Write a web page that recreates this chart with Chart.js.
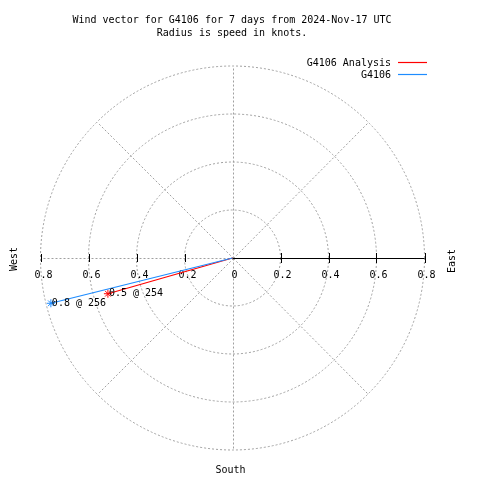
<!DOCTYPE html>
<html>
<head>
<meta charset="utf-8">
<script src="https://cdn.jsdelivr.net/npm/chart.js@4/dist/chart.umd.min.js"></script>
<style>
  html, body { margin: 0; padding: 0; background: #fff; }
  #wrap { width: 480px; height: 480px; position: relative; }
</style>
</head>
<body>
<div id="wrap"><canvas id="c" width="480" height="480"></canvas></div>
<script>
// ---- data ----
const seriesNames = ['G4106 Analysis', 'G4106'];
const seriesColors = ['#ff0000', '#1e8cff'];
const speeds = [0.54, 0.78];       // knots
const directions = [254, 256];     // degrees, clockwise from north
const ringValues = [0.2, 0.4, 0.6, 0.8];
const tickValues = [0, 0.2, 0.4, 0.6, 0.8];
const spokeAngles = [0, 45, 90, 135, 180, 225, 270, 315];
const titleLines = ['Wind vector for G4106 for 7 days from 2024-Nov-17 UTC', 'Radius is speed in knots.'];
const compassLabels = { west: 'West', east: 'East', south: 'South' };
const maxR = 0.8;

const FONT = '10px "DejaVu Sans Mono", "Liberation Mono", monospace';

function tip(i) {
  const a = directions[i] * Math.PI / 180;
  return { x: speeds[i] * Math.sin(a), y: speeds[i] * Math.cos(a) };
}

const datasets = seriesNames.map((name, i) => ({
  label: name,
  data: [{ x: 0, y: 0 }, tip(i)],
  borderColor: seriesColors[i],
  backgroundColor: seriesColors[i],
  borderWidth: 1.2,
  showLine: true,
  pointStyle: 'star',
  pointRadius: [0, 4],
  pointBorderWidth: 1,
  pointBorderColor: seriesColors[i],
  order: seriesNames.length - i
}));

const polarPlugin = {
  id: 'polarDecor',
  beforeDatasetsDraw(chart) {
    const ctx = chart.ctx;
    const xs = chart.scales.x, ys = chart.scales.y;
    const cx = xs.getPixelForValue(0), cy = ys.getPixelForValue(0);
    const pr = v => xs.getPixelForValue(v) - cx;
    ctx.save();
    // grid rings
    ctx.strokeStyle = '#a0a0a0';
    ctx.lineWidth = 1;
    ctx.setLineDash([2, 2]);
    ringValues.forEach(v => {
      ctx.beginPath();
      ctx.arc(cx, cy, pr(v), 0, Math.PI * 2);
      ctx.stroke();
    });
    // spokes
    spokeAngles.forEach(deg => {
      if (deg === 90) return;
      const a = deg * Math.PI / 180;
      const ex = xs.getPixelForValue(maxR * Math.sin(a));
      const ey = ys.getPixelForValue(maxR * Math.cos(a));
      ctx.beginPath();
      ctx.moveTo(Math.round(cx) + 0.5, Math.round(cy) + 0.5);
      ctx.lineTo(Math.round(ex) + 0.5, Math.round(ey) + 0.5);
      ctx.stroke();
    });
    ctx.setLineDash([]);
    // east axis (solid)
    ctx.strokeStyle = '#000';
    ctx.beginPath();
    ctx.moveTo(cx, Math.round(cy) + 0.5);
    ctx.lineTo(xs.getPixelForValue(maxR), Math.round(cy) + 0.5);
    ctx.stroke();
    // ticks
    tickValues.forEach(v => {
      if (v === 0) return;
      const xr = Math.round(xs.getPixelForValue(v)) + 0.5;
      const xl = Math.round(xs.getPixelForValue(-v)) + 0.5;
      ctx.beginPath();
      ctx.moveTo(xr, cy - 5); ctx.lineTo(xr, cy + 5);
      ctx.moveTo(xl, cy - 4); ctx.lineTo(xl, cy + 4);
      ctx.stroke();
    });
    // tick labels
    ctx.fillStyle = '#000';
    ctx.font = FONT;
    ctx.textAlign = 'center';
    ctx.textBaseline = 'middle';
    tickValues.forEach(v => {
      const t = v === 0 ? '0' : v.toFixed(1);
      ctx.fillText(t, xs.getPixelForValue(v) + 2, cy + 17);
      if (v !== 0) ctx.fillText(t, xs.getPixelForValue(-v) + 3, cy + 17);
    });
    ctx.restore();
  },
  afterDatasetsDraw(chart) {
    const ctx = chart.ctx;
    const xs = chart.scales.x, ys = chart.scales.y;
    const cx = xs.getPixelForValue(0), cy = ys.getPixelForValue(0);
    ctx.save();
    ctx.fillStyle = '#000';
    ctx.font = FONT;
    // point labels
    ctx.textAlign = 'left';
    ctx.textBaseline = 'middle';
    seriesNames.forEach((n, i) => {
      const t = tip(i);
      ctx.fillText(speeds[i].toFixed(1) + ' @ ' + directions[i],
        xs.getPixelForValue(t.x) + 1, ys.getPixelForValue(t.y));
    });
    // title
    ctx.textAlign = 'center';
    titleLines.forEach((l, i) => ctx.fillText(l, 232, 20 + i * 13));
    // legend
    ctx.textAlign = 'right';
    seriesNames.forEach((n, i) => {
      const y = 63 + i * 12;
      ctx.fillText(n, 391, y);
      ctx.strokeStyle = seriesColors[i];
      ctx.lineWidth = 1.2;
      ctx.beginPath();
      ctx.moveTo(398, Math.round(y) - 0.5);
      ctx.lineTo(427, Math.round(y) - 0.5);
      ctx.stroke();
    });
    // compass labels
    ctx.textAlign = 'center';
    ctx.fillText(compassLabels.south, cx - 2, ys.getPixelForValue(-maxR) + 20);
    const rot = (txt, x, y) => {
      ctx.save();
      ctx.translate(x, y);
      ctx.rotate(-Math.PI / 2);
      ctx.fillText(txt, 0, 0);
      ctx.restore();
    };
    rot(compassLabels.west, 14, cy + 1);
    rot(compassLabels.east, 452, cy + 3);
    ctx.restore();
  }
};

new Chart(document.getElementById('c'), {
  type: 'scatter',
  data: { datasets },
  options: {
    responsive: false,
    animation: false,
    layout: { padding: { left: 40.5, right: 55.5, top: 66, bottom: 30 } },
    plugins: { legend: { display: false }, title: { display: false }, tooltip: { enabled: false } },
    scales: {
      x: { type: 'linear', min: -maxR, max: maxR, display: false },
      y: { type: 'linear', min: -maxR, max: maxR, display: false }
    }
  },
  plugins: [polarPlugin]
});
</script>
</body>
</html>
